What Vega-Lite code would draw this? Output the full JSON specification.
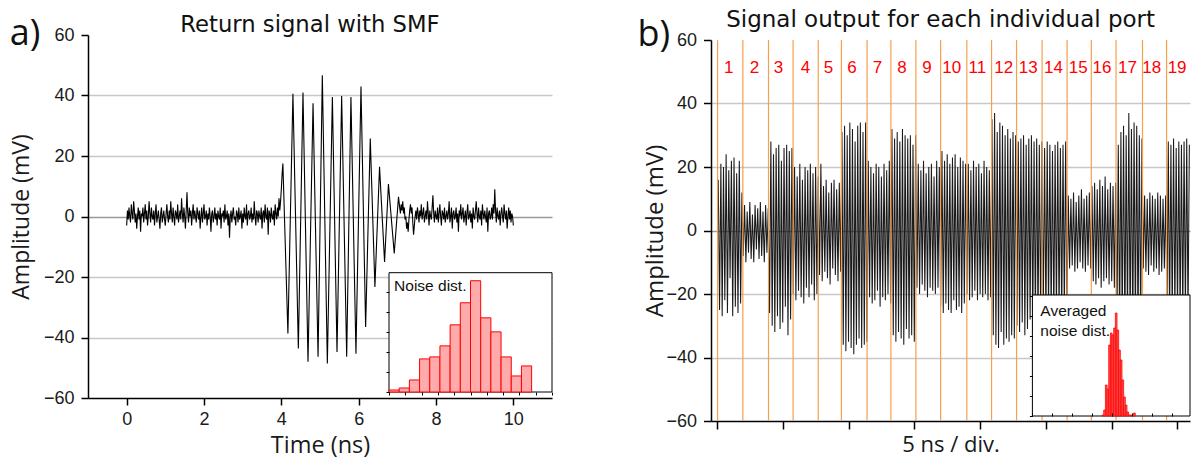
{
"$schema": "https://vega.github.io/schema/vega-lite/v6.json",
"background": "white",
"padding": {"left": 9, "top": 9, "right": 0, "bottom": 4},
"autosize": {"type": "pad"},
"bounds": "flush",
"spacing": 159,
"config": {
  "view": {"stroke": null},
  "axis": {"labelFont": "Liberation Sans", "labelFontSize": 18, "labelColor": "#1a1a1a", "titleFont": "Open Sans", "titleFontWeight": "normal", "titleColor": "#1a1a1a", "domainColor": "#000000", "domainWidth": 1.5, "tickColor": "#000000", "tickWidth": 1.5, "labelFlush": false, "labelOverlap": false, "labelBound": false}
},
"datasets": {
"sigA": [
{"t":0,"v":-3},{"t":0.02,"v":2},{"t":0.04,"v":-1},{"t":0.06,"v":3},{"t":0.08,"v":0},{"t":0.1,"v":-2},{"t":0.12,"v":4},{"t":0.14,"v":1},{"t":0.16,"v":-1},{"t":0.18,"v":5},
{"t":0.2,"v":2},{"t":0.22,"v":-2},{"t":0.24,"v":1},{"t":0.26,"v":-4},{"t":0.28,"v":0},{"t":0.3,"v":3},{"t":0.32,"v":-1},{"t":0.34,"v":2},{"t":0.36,"v":-5},{"t":0.38,"v":1},
{"t":0.4,"v":0},{"t":0.42,"v":3},{"t":0.44,"v":-2},{"t":0.46,"v":1},{"t":0.48,"v":4},{"t":0.5,"v":-1},{"t":0.52,"v":2},{"t":0.54,"v":-3},{"t":0.56,"v":0},{"t":0.58,"v":5},
{"t":0.6,"v":1},{"t":0.62,"v":-2},{"t":0.64,"v":3},{"t":0.66,"v":0},{"t":0.68,"v":-1},{"t":0.7,"v":2},{"t":0.72,"v":-3},{"t":0.74,"v":1},{"t":0.76,"v":4},{"t":0.78,"v":-2},
{"t":0.8,"v":0},{"t":0.82,"v":2},{"t":0.84,"v":-1},{"t":0.86,"v":-4},{"t":0.88,"v":1},{"t":0.9,"v":3},{"t":0.92,"v":-2},{"t":0.94,"v":0},{"t":0.96,"v":2},{"t":0.98,"v":-1},
{"t":1,"v":-3},{"t":1.02,"v":1},{"t":1.04,"v":4},{"t":1.06,"v":0},{"t":1.08,"v":-2},{"t":1.1,"v":2},{"t":1.12,"v":-1},{"t":1.14,"v":5},{"t":1.16,"v":1},{"t":1.18,"v":-2},
{"t":1.2,"v":3},{"t":1.22,"v":0},{"t":1.24,"v":-3},{"t":1.26,"v":2},{"t":1.28,"v":1},{"t":1.3,"v":-1},{"t":1.32,"v":4},{"t":1.34,"v":-2},{"t":1.36,"v":0},{"t":1.38,"v":2},
{"t":1.4,"v":-1},{"t":1.42,"v":6},{"t":1.44,"v":1},{"t":1.46,"v":-2},{"t":1.48,"v":3},{"t":1.5,"v":0},{"t":1.52,"v":-4},{"t":1.54,"v":2},{"t":1.56,"v":8},{"t":1.58,"v":1},
{"t":1.6,"v":-2},{"t":1.62,"v":3},{"t":1.64,"v":0},{"t":1.66,"v":2},{"t":1.68,"v":-3},{"t":1.7,"v":1},{"t":1.72,"v":4},{"t":1.74,"v":-1},{"t":1.76,"v":2},{"t":1.78,"v":0},
{"t":1.8,"v":-2},{"t":1.82,"v":3},{"t":1.84,"v":1},{"t":1.86,"v":-1},{"t":1.88,"v":2},{"t":1.9,"v":-4},{"t":1.92,"v":0},{"t":1.94,"v":3},{"t":1.96,"v":-2},{"t":1.98,"v":1},
{"t":2,"v":4},{"t":2.02,"v":-1},{"t":2.04,"v":0},{"t":2.06,"v":2},{"t":2.08,"v":-3},{"t":2.1,"v":1},{"t":2.12,"v":-1},{"t":2.14,"v":3},{"t":2.16,"v":0},{"t":2.18,"v":-5},
{"t":2.2,"v":1},{"t":2.22,"v":2},{"t":2.24,"v":-2},{"t":2.26,"v":0},{"t":2.28,"v":3},{"t":2.3,"v":-1},{"t":2.32,"v":1},{"t":2.34,"v":-3},{"t":2.36,"v":2},{"t":2.38,"v":0},
{"t":2.4,"v":-1},{"t":2.42,"v":3},{"t":2.44,"v":-4},{"t":2.46,"v":1},{"t":2.48,"v":0},{"t":2.5,"v":2},{"t":2.52,"v":-2},{"t":2.54,"v":4},{"t":2.56,"v":-1},{"t":2.58,"v":0},
{"t":2.6,"v":2},{"t":2.62,"v":-3},{"t":2.64,"v":1},{"t":2.66,"v":-7},{"t":2.68,"v":0},{"t":2.7,"v":2},{"t":2.72,"v":-2},{"t":2.74,"v":1},{"t":2.76,"v":3},{"t":2.78,"v":-1},
{"t":2.8,"v":0},{"t":2.82,"v":-3},{"t":2.84,"v":2},{"t":2.86,"v":1},{"t":2.88,"v":-2},{"t":2.9,"v":3},{"t":2.92,"v":-1},{"t":2.94,"v":0},{"t":2.96,"v":2},{"t":2.98,"v":-4},
{"t":3,"v":1},{"t":3.02,"v":-2},{"t":3.04,"v":3},{"t":3.06,"v":0},{"t":3.08,"v":-1},{"t":3.1,"v":4},{"t":3.12,"v":-3},{"t":3.14,"v":1},{"t":3.16,"v":2},{"t":3.18,"v":-1},
{"t":3.2,"v":0},{"t":3.22,"v":3},{"t":3.24,"v":-2},{"t":3.26,"v":1},{"t":3.28,"v":-1},{"t":3.3,"v":5},{"t":3.32,"v":0},{"t":3.34,"v":-3},{"t":3.36,"v":2},{"t":3.38,"v":1},
{"t":3.4,"v":-2},{"t":3.42,"v":2},{"t":3.44,"v":0},{"t":3.46,"v":-1},{"t":3.48,"v":3},{"t":3.5,"v":-4},{"t":3.52,"v":1},{"t":3.54,"v":2},{"t":3.56,"v":-2},{"t":3.58,"v":4},
{"t":3.6,"v":0},{"t":3.62,"v":-1},{"t":3.64,"v":3},{"t":3.66,"v":-6},{"t":3.68,"v":2},{"t":3.7,"v":1},{"t":3.72,"v":-2},{"t":3.74,"v":3},{"t":3.76,"v":0},{"t":3.78,"v":-1},
{"t":3.8,"v":2},{"t":3.82,"v":-3},{"t":3.84,"v":4},{"t":3.86,"v":1},{"t":3.88,"v":-1},{"t":3.9,"v":3},{"t":3.92,"v":0},{"t":3.94,"v":6},{"t":3.96,"v":2},{"t":3.98,"v":5},
{"t":4,"v":9},{"t":4.02,"v":14},
{"t":4.04,"v":17.5},{"t":4.17,"v":-38.7},{"t":4.3,"v":40.6},{"t":4.44,"v":-43.6},{"t":4.56,"v":41},{"t":4.69,"v":-48},{"t":4.82,"v":37.4},{"t":4.95,"v":-46.4},{"t":5.06,"v":46.7},{"t":5.19,"v":-48.6},{"t":5.32,"v":39.5},{"t":5.44,"v":-44.8},{"t":5.56,"v":39.8},{"t":5.69,"v":-46.4},{"t":5.8,"v":39.5},{"t":5.93,"v":-45.4},{"t":6.06,"v":43},{"t":6.18,"v":-36.5},{"t":6.3,"v":25.8},{"t":6.42,"v":-23.3},{"t":6.54,"v":16.4},{"t":6.67,"v":-15},{"t":6.77,"v":10.7},{"t":6.92,"v":-12.2},{"t":7.03,"v":6.5},
{"t":7.06,"v":3},{"t":7.08,"v":1},{"t":7.1,"v":4},{"t":7.12,"v":2},{"t":7.14,"v":5},{"t":7.16,"v":1},{"t":7.18,"v":3},{"t":7.2,"v":-1},{"t":7.22,"v":0},{"t":7.24,"v":-4},
{"t":7.26,"v":-2},{"t":7.28,"v":-5},{"t":7.3,"v":-1},{"t":7.32,"v":2},{"t":7.34,"v":4},{"t":7.36,"v":1},{"t":7.38,"v":3},{"t":7.4,"v":-2},{"t":7.42,"v":-6},{"t":7.44,"v":-3},
{"t":7.46,"v":0},{"t":7.48,"v":2},{"t":7.5,"v":-1},{"t":7.52,"v":3},{"t":7.54,"v":1},{"t":7.56,"v":-2},{"t":7.58,"v":2},{"t":7.6,"v":0},{"t":7.62,"v":4},{"t":7.64,"v":-1},
{"t":7.66,"v":1},{"t":7.68,"v":3},{"t":7.7,"v":-2},{"t":7.72,"v":0},{"t":7.74,"v":2},{"t":7.76,"v":-1},{"t":7.78,"v":5},{"t":7.8,"v":1},{"t":7.82,"v":-3},{"t":7.84,"v":2},
{"t":7.86,"v":0},{"t":7.88,"v":-1},{"t":7.9,"v":3},{"t":7.92,"v":7},{"t":7.94,"v":1},{"t":7.96,"v":-2},{"t":7.98,"v":2},{"t":8,"v":0},{"t":8.02,"v":-1},{"t":8.04,"v":3},
{"t":8.06,"v":-2},{"t":8.08,"v":1},{"t":8.1,"v":4},{"t":8.12,"v":0},{"t":8.14,"v":-3},{"t":8.16,"v":2},{"t":8.18,"v":1},{"t":8.2,"v":-1},{"t":8.22,"v":3},{"t":8.24,"v":-2},
{"t":8.26,"v":0},{"t":8.28,"v":2},{"t":8.3,"v":-1},{"t":8.32,"v":1},{"t":8.34,"v":5},{"t":8.36,"v":-2},{"t":8.38,"v":0},{"t":8.4,"v":3},{"t":8.42,"v":-4},{"t":8.44,"v":1},
{"t":8.46,"v":2},{"t":8.48,"v":-1},{"t":8.5,"v":0},{"t":8.52,"v":3},{"t":8.54,"v":-2},{"t":8.56,"v":1},{"t":8.58,"v":-5},{"t":8.6,"v":2},{"t":8.62,"v":0},{"t":8.64,"v":4},
{"t":8.66,"v":-1},{"t":8.68,"v":1},{"t":8.7,"v":3},{"t":8.72,"v":-2},{"t":8.74,"v":0},{"t":8.76,"v":2},{"t":8.78,"v":-3},{"t":8.8,"v":1},{"t":8.82,"v":4},{"t":8.84,"v":-1},
{"t":8.86,"v":0},{"t":8.88,"v":2},{"t":8.9,"v":-2},{"t":8.92,"v":1},{"t":8.94,"v":-4},{"t":8.96,"v":3},{"t":8.98,"v":0},{"t":9,"v":-1},{"t":9.02,"v":2},{"t":9.04,"v":5},
{"t":9.06,"v":1},{"t":9.08,"v":-2},{"t":9.1,"v":3},{"t":9.12,"v":0},{"t":9.14,"v":-1},{"t":9.16,"v":2},{"t":9.18,"v":-3},{"t":9.2,"v":4},{"t":9.22,"v":1},{"t":9.24,"v":-1},
{"t":9.26,"v":2},{"t":9.28,"v":0},{"t":9.3,"v":-2},{"t":9.32,"v":3},{"t":9.34,"v":-5},{"t":9.36,"v":1},{"t":9.38,"v":2},{"t":9.4,"v":-1},{"t":9.42,"v":0},{"t":9.44,"v":3},
{"t":9.46,"v":-1},{"t":9.48,"v":4},{"t":9.5,"v":1},{"t":9.52,"v":9},{"t":9.54,"v":2},{"t":9.56,"v":-2},{"t":9.58,"v":3},{"t":9.6,"v":0},{"t":9.62,"v":-1},{"t":9.64,"v":2},
{"t":9.66,"v":-3},{"t":9.68,"v":1},{"t":9.7,"v":3},{"t":9.72,"v":0},{"t":9.74,"v":-2},{"t":9.76,"v":4},{"t":9.78,"v":1},{"t":9.8,"v":-1},{"t":9.82,"v":2},{"t":9.84,"v":-4},
{"t":9.86,"v":0},{"t":9.88,"v":3},{"t":9.9,"v":-1},{"t":9.92,"v":2},{"t":9.94,"v":-2},{"t":9.96,"v":1},{"t":9.98,"v":0},{"t":10,"v":-3}
],
"histA": [
{"bin":0,"bin_end":1,"count":2},{"bin":1,"bin_end":2,"count":4},{"bin":2,"bin_end":3,"count":12},{"bin":3,"bin_end":4,"count":33},{"bin":4,"bin_end":5,"count":35},{"bin":5,"bin_end":6,"count":46},{"bin":6,"bin_end":7,"count":67},{"bin":7,"bin_end":8,"count":89},{"bin":8,"bin_end":9,"count":111},{"bin":9,"bin_end":10,"count":74},{"bin":10,"bin_end":11,"count":60},{"bin":11,"bin_end":12,"count":35},{"bin":12,"bin_end":13,"count":16},{"bin":13,"bin_end":14,"count":26}
],
"sigB": [
{"t":0.1,"v":16},{"t":0.2,"v":-25},{"t":0.3,"v":21},{"t":0.4,"v":-27},{"t":0.5,"v":20},{"t":0.6,"v":-22},{"t":0.7,"v":24},{"t":0.8,"v":-26},{"t":0.9,"v":19},{"t":1.0,"v":-15},{"t":1.1,"v":22},{"t":1.2,"v":-27},{"t":1.3,"v":23},{"t":1.4,"v":-24},{"t":1.5,"v":18},{"t":1.6,"v":-26},{"t":1.7,"v":22},{"t":1.8,"v":-23},{"t":1.9,"v":12},
{"t":2.0,"v":-8},{"t":2.1,"v":8},{"t":2.2,"v":-10},{"t":2.3,"v":6},{"t":2.4,"v":-7},{"t":2.5,"v":9},{"t":2.6,"v":-9},{"t":2.7,"v":5},{"t":2.8,"v":-10},{"t":2.9,"v":8},{"t":3.0,"v":-6},{"t":3.1,"v":7},{"t":3.2,"v":-9},{"t":3.3,"v":9},{"t":3.4,"v":-8},{"t":3.5,"v":6},{"t":3.6,"v":-10},{"t":3.7,"v":8},{"t":3.8,"v":-7},{"t":3.9,"v":7},
{"t":4.0,"v":-26},{"t":4.1,"v":28},{"t":4.2,"v":-30},{"t":4.3,"v":24},{"t":4.4,"v":-32},{"t":4.5,"v":26},{"t":4.6,"v":-27},{"t":4.7,"v":27},{"t":4.8,"v":-31},{"t":4.9,"v":22},{"t":5.0,"v":-29},{"t":5.1,"v":26},{"t":5.2,"v":-24},{"t":5.3,"v":27},{"t":5.4,"v":-33},{"t":5.5,"v":25},{"t":5.6,"v":-28},{"t":5.7,"v":26},
{"t":5.8,"v":-20},{"t":5.9,"v":20},{"t":6.0,"v":-22},{"t":6.1,"v":17},{"t":6.2,"v":-19},{"t":6.3,"v":21},{"t":6.4,"v":-21},{"t":6.5,"v":16},{"t":6.6,"v":-23},{"t":6.7,"v":20},{"t":6.8,"v":-18},{"t":6.9,"v":19},{"t":7.0,"v":-21},{"t":7.1,"v":21},{"t":7.2,"v":-17},{"t":7.3,"v":18},{"t":7.4,"v":-22},{"t":7.5,"v":20},{"t":7.6,"v":-20},{"t":7.7,"v":17},
{"t":7.8,"v":-14},{"t":7.9,"v":21},{"t":8.0,"v":-16},{"t":8.1,"v":14},{"t":8.2,"v":-13},{"t":8.3,"v":16},{"t":8.4,"v":-15},{"t":8.5,"v":12},{"t":8.6,"v":-17},{"t":8.7,"v":15},{"t":8.8,"v":-12},{"t":8.9,"v":16},{"t":9.0,"v":-14},{"t":9.1,"v":13},{"t":9.2,"v":-16},{"t":9.3,"v":15},{"t":9.4,"v":-13},
{"t":9.5,"v":31},{"t":9.6,"v":-36},{"t":9.7,"v":33},{"t":9.8,"v":-38},{"t":9.9,"v":30},{"t":10.0,"v":-35},{"t":10.1,"v":34},{"t":10.2,"v":-37},{"t":10.3,"v":32},{"t":10.4,"v":-39},{"t":10.5,"v":28},{"t":10.6,"v":-36},{"t":10.7,"v":33},{"t":10.8,"v":-34},{"t":10.9,"v":34},{"t":11.0,"v":-37},{"t":11.1,"v":31},{"t":11.2,"v":-36},{"t":11.3,"v":34},{"t":11.4,"v":-35},
{"t":11.5,"v":22},{"t":11.6,"v":-21},{"t":11.7,"v":20},{"t":11.8,"v":-23},{"t":11.9,"v":18},{"t":12.0,"v":-22},{"t":12.1,"v":21},{"t":12.2,"v":-19},{"t":12.3,"v":20},{"t":12.4,"v":-24},{"t":12.5,"v":17},{"t":12.6,"v":-21},{"t":12.7,"v":21},{"t":12.8,"v":-22},{"t":12.9,"v":19},{"t":13.0,"v":-20},{"t":13.1,"v":22},{"t":13.2,"v":-23},
{"t":13.3,"v":32},{"t":13.4,"v":-33},{"t":13.5,"v":29},{"t":13.6,"v":-35},{"t":13.7,"v":31},{"t":13.8,"v":-32},{"t":13.9,"v":28},{"t":14.0,"v":-34},{"t":14.1,"v":32},{"t":14.2,"v":-36},{"t":14.3,"v":30},{"t":14.4,"v":-31},{"t":14.5,"v":29},{"t":14.6,"v":-34},{"t":14.7,"v":30},{"t":14.8,"v":-33},{"t":14.9,"v":27},{"t":15.0,"v":-35},{"t":15.1,"v":30},
{"t":15.2,"v":-18},{"t":15.3,"v":21},{"t":15.4,"v":-20},{"t":15.5,"v":19},{"t":15.6,"v":-17},{"t":15.7,"v":22},{"t":15.8,"v":-19},{"t":15.9,"v":18},{"t":16.0,"v":-21},{"t":16.1,"v":20},{"t":16.2,"v":-18},{"t":16.3,"v":21},{"t":16.4,"v":-19},{"t":16.5,"v":17},{"t":16.6,"v":-20},{"t":16.7,"v":22},{"t":16.8,"v":-18},{"t":16.9,"v":20},
{"t":17.0,"v":-24},{"t":17.1,"v":25},{"t":17.2,"v":-26},{"t":17.3,"v":22},{"t":17.4,"v":-23},{"t":17.5,"v":24},{"t":17.6,"v":-25},{"t":17.7,"v":21},{"t":17.8,"v":-26},{"t":17.9,"v":23},{"t":18.0,"v":-22},{"t":18.1,"v":24},{"t":18.2,"v":-25},{"t":18.3,"v":20},{"t":18.4,"v":-24},{"t":18.5,"v":23},{"t":18.6,"v":-26},{"t":18.7,"v":22},{"t":18.8,"v":-23},{"t":18.9,"v":21},
{"t":19.0,"v":-20},{"t":19.1,"v":21},{"t":19.2,"v":-22},{"t":19.3,"v":19},{"t":19.4,"v":-21},{"t":19.5,"v":22},{"t":19.6,"v":-19},{"t":19.7,"v":20},{"t":19.8,"v":-22},{"t":19.9,"v":21},{"t":20.0,"v":-20},{"t":20.1,"v":18},{"t":20.2,"v":-21},{"t":20.3,"v":22},{"t":20.4,"v":-20},{"t":20.5,"v":20},{"t":20.6,"v":-22},{"t":20.7,"v":19},{"t":20.8,"v":-21},
{"t":20.9,"v":35},{"t":21.0,"v":-33},{"t":21.1,"v":37},{"t":21.2,"v":-36},{"t":21.3,"v":31},{"t":21.4,"v":-37},{"t":21.5,"v":34},{"t":21.6,"v":-32},{"t":21.7,"v":33},{"t":21.8,"v":-36},{"t":21.9,"v":30},{"t":22.0,"v":-34},{"t":22.1,"v":32},{"t":22.2,"v":-35},{"t":22.3,"v":29},{"t":22.4,"v":-33},{"t":22.5,"v":31},{"t":22.6,"v":-34},{"t":22.7,"v":30},
{"t":22.8,"v":-30},{"t":22.9,"v":28},{"t":23.0,"v":-32},{"t":23.1,"v":29},{"t":23.2,"v":-29},{"t":23.3,"v":30},{"t":23.4,"v":-33},{"t":23.5,"v":27},{"t":23.6,"v":-31},{"t":23.7,"v":29},{"t":23.8,"v":-28},{"t":23.9,"v":30},{"t":24.0,"v":-32},{"t":24.1,"v":28},{"t":24.2,"v":-30},{"t":24.3,"v":29},{"t":24.4,"v":-31},{"t":24.5,"v":27},{"t":24.6,"v":-29},{"t":24.7,"v":28},
{"t":24.8,"v":-27},{"t":24.9,"v":26},{"t":25.0,"v":-29},{"t":25.1,"v":28},{"t":25.2,"v":-26},{"t":25.3,"v":27},{"t":25.4,"v":-28},{"t":25.5,"v":25},{"t":25.6,"v":-29},{"t":25.7,"v":27},{"t":25.8,"v":-27},{"t":25.9,"v":28},{"t":26.0,"v":-28},{"t":26.1,"v":26},{"t":26.2,"v":-29},{"t":26.3,"v":27},{"t":26.4,"v":-26},{"t":26.5,"v":28},{"t":26.6,"v":-28},
{"t":26.7,"v":11},{"t":26.8,"v":-12},{"t":26.9,"v":10},{"t":27.0,"v":-11},{"t":27.1,"v":12},{"t":27.2,"v":-13},{"t":27.3,"v":9},{"t":27.4,"v":-12},{"t":27.5,"v":11},{"t":27.6,"v":-10},{"t":27.7,"v":13},{"t":27.8,"v":-12},{"t":27.9,"v":10},{"t":28.0,"v":-13},{"t":28.1,"v":11},{"t":28.2,"v":-11},{"t":28.3,"v":12},{"t":28.4,"v":-12},
{"t":28.5,"v":14},{"t":28.6,"v":-16},{"t":28.7,"v":15},{"t":28.8,"v":-17},{"t":28.9,"v":13},{"t":29.0,"v":-15},{"t":29.1,"v":16},{"t":29.2,"v":-18},{"t":29.3,"v":14},{"t":29.4,"v":-16},{"t":29.5,"v":17},{"t":29.6,"v":-15},{"t":29.7,"v":13},{"t":29.8,"v":-17},{"t":29.9,"v":15},{"t":30.0,"v":-16},{"t":30.1,"v":14},{"t":30.2,"v":-18},{"t":30.3,"v":15},
{"t":30.4,"v":-30},{"t":30.5,"v":27},{"t":30.6,"v":-33},{"t":30.7,"v":31},{"t":30.8,"v":-32},{"t":30.9,"v":33},{"t":31.0,"v":-34},{"t":31.1,"v":30},{"t":31.2,"v":-31},{"t":31.3,"v":37},{"t":31.4,"v":-33},{"t":31.5,"v":32},{"t":31.6,"v":-35},{"t":31.7,"v":34},{"t":31.8,"v":-32},{"t":31.9,"v":33},{"t":32.0,"v":-34},{"t":32.1,"v":30},{"t":32.2,"v":-31},{"t":32.3,"v":29},
{"t":32.4,"v":-12},{"t":32.5,"v":11},{"t":32.6,"v":-13},{"t":32.7,"v":10},{"t":32.8,"v":-14},{"t":32.9,"v":12},{"t":33.0,"v":-11},{"t":33.1,"v":11},{"t":33.2,"v":-13},{"t":33.3,"v":10},{"t":33.4,"v":-12},{"t":33.5,"v":12},{"t":33.6,"v":-14},{"t":33.7,"v":11},{"t":33.8,"v":-13},{"t":33.9,"v":10},{"t":34.0,"v":-12},{"t":34.1,"v":11},
{"t":34.2,"v":-27},{"t":34.3,"v":28},{"t":34.4,"v":-29},{"t":34.5,"v":27},{"t":34.6,"v":-28},{"t":34.7,"v":29},{"t":34.8,"v":-27},{"t":34.9,"v":26},{"t":35.0,"v":-28},{"t":35.1,"v":28},{"t":35.2,"v":-29},{"t":35.3,"v":27},{"t":35.4,"v":-28},{"t":35.5,"v":28},{"t":35.6,"v":-27},{"t":35.7,"v":29},{"t":35.8,"v":-28},{"t":35.9,"v":27}
],
"ports": [
{"port":1,"start":0.05,"label_t":0.9},{"port":2,"start":1.97,"label_t":2.86},{"port":3,"start":3.92,"label_t":4.67},{"port":4,"start":5.79,"label_t":6.73},{"port":5,"start":7.7,"label_t":8.47},{"port":6,"start":9.46,"label_t":10.26},{"port":7,"start":11.41,"label_t":12.2},{"port":8,"start":13.22,"label_t":14.07},{"port":9,"start":15.12,"label_t":15.97},{"port":10,"start":17.0,"label_t":17.84},{"port":11,"start":18.99,"label_t":19.79},{"port":12,"start":20.87,"label_t":21.8},{"port":13,"start":22.77,"label_t":23.66},{"port":14,"start":24.71,"label_t":25.58},{"port":15,"start":26.61,"label_t":27.45},{"port":16,"start":28.45,"label_t":29.26},{"port":17,"start":30.33,"label_t":31.2},{"port":18,"start":32.34,"label_t":33.04},{"port":19,"start":34.17,"label_t":34.97}
],
"histB": [
{"bin":42,"bin_end":43,"count":1},{"bin":43,"bin_end":44,"count":6},{"bin":44,"bin_end":45,"count":31},{"bin":45,"bin_end":46,"count":27},{"bin":46,"bin_end":47,"count":71},{"bin":47,"bin_end":48,"count":83},{"bin":48,"bin_end":49,"count":81},{"bin":49,"bin_end":50,"count":88},{"bin":50,"bin_end":51,"count":103},{"bin":51,"bin_end":52,"count":86},{"bin":52,"bin_end":53,"count":66},{"bin":53,"bin_end":54,"count":56},{"bin":54,"bin_end":55,"count":36},{"bin":55,"bin_end":56,"count":19},{"bin":56,"bin_end":57,"count":11},{"bin":57,"bin_end":58,"count":4},{"bin":58,"bin_end":59,"count":1},{"bin":59,"bin_end":60,"count":1},{"bin":61,"bin_end":62,"count":3}
]
},
"hconcat": [
{
  "width": 464, "height": 363,
  "layer": [
    {"layer": [
      {"data": {"name": "sigA"}, "mark": {"type": "line", "color": "#000000", "strokeWidth": 1.1},
       "encoding": {
         "x": {"field": "t", "type": "quantitative", "scale": {"domain": [-1, 11], "nice": false, "zero": false},
               "axis": {"values": [0, 2, 4, 6, 8, 10], "labels": true, "tickSize": 7, "grid": false, "labelPadding": 5.5, "title": "Time (ns)", "titleFontSize": 23.5, "titlePadding": 5}},
         "y": {"field": "v", "type": "quantitative", "scale": {"domain": [-60, 60], "nice": false, "zero": false},
               "axis": {"values": [-60,-50,-40,-30,-20,-10,0,10,20,30,40,50,60], "labelExpr": "datum.value % 20 === 0 ? datum.label : ''", "tickSize": 7, "tickDash": {"condition": {"test": "datum.value % 20 !== 0", "value": [4, 20]}, "value": []}, "grid": true, "gridDash": {"condition": {"test": "datum.value % 20 !== 0", "value": [2, 2]}, "value": []}, "gridColor": {"condition": {"test": "datum.value === 0", "value": "#999999"}, "value": "#c8c8c8"}, "gridWidth": {"condition": {"test": "datum.value % 20 !== 0", "value": 1}, "value": 1.5}, "gridOpacity": {"condition": {"test": "abs(datum.value) === 60", "value": 0}, "value": 1}, "labelPadding": 7, "title": "Amplitude (mV)", "titleFontSize": 23, "titlePadding": 9.8}}
       }},
      {"data": {"values": [{}]}, "mark": {"type": "text", "text": "a)", "font": "Open Sans", "fontSize": 36, "align": "center", "baseline": "middle", "color": "#111111"},
       "encoding": {"x": {"datum": -2.63}, "y": {"datum": 60.3}}},
      {"data": {"values": [{}]}, "mark": {"type": "text", "text": "Return signal with SMF", "font": "DejaVu Sans", "fontSize": 22.7, "align": "center", "baseline": "alphabetic", "color": "#111111"},
       "encoding": {"x": {"datum": 4.74}, "y": {"datum": 61.09}}}
    ]},
    {"layer": [
      {"data": {"values": [{}]}, "mark": {"type": "rect", "fill": "#ffffff", "stroke": "#000000", "strokeWidth": 1},
       "encoding": {"x": {"datum": 0}, "x2": {"datum": 16}, "y": {"datum": 0}, "y2": {"datum": 119}}},
      {"data": {"name": "histA"}, "mark": {"type": "rect", "fill": "#ffabab", "stroke": "#ff0000", "strokeWidth": 1},
       "encoding": {
         "x": {"field": "bin", "type": "quantitative", "scale": {"domain": [0, 16], "range": [301, 464], "nice": false, "zero": false},
               "axis": {"orient": "bottom", "offset": -6, "values": [0,0.4,0.8,1.2,1.6,2,2.4,2.8,3.2,3.6,4,4.4,4.8,5.2,5.6,6,6.4,6.8,7.2,7.6,8,8.4,8.8,9.2,9.6,10,10.4,10.8,11.2,11.6,12,12.4,12.8,13.2,13.6,14,14.4,14.8,15.2,15.6,16], "labels": false, "domain": false, "grid": false, "title": null, "tickSize": 3, "tickWidth": 1, "zindex": 1}},
         "x2": {"field": "bin_end"},
         "y": {"field": "count", "type": "quantitative", "scale": {"domain": [0, 119], "range": [357, 237.7], "nice": false, "zero": false},
               "axis": {"orient": "left", "offset": -301, "values": [0,10,20,30,40,50,60,70,80,90,100,110], "labels": false, "domain": false, "grid": false, "title": null, "tickSize": 3, "tickWidth": 1, "zindex": 1}},
         "y2": {"datum": 0}
       }},
      {"data": {"values": [{}]}, "mark": {"type": "text", "text": "Noise dist.", "font": "Liberation Sans", "fontSize": 15.5, "align": "left", "baseline": "top", "color": "#111111"},
       "encoding": {"x": {"datum": 0.5}, "y": {"datum": 112.7}}}
    ]}
  ],
  "resolve": {"scale": {"x": "independent", "y": "independent"}, "axis": {"x": "independent", "y": "independent"}}
},
{
  "width": 479, "height": 386,
  "layer": [
    {"layer": [
      {"data": {"name": "sigB"}, "mark": {"type": "line", "color": "#1a1a1a", "strokeWidth": 1.05},
       "encoding": {
         "x": {"field": "t", "type": "quantitative", "scale": {"domain": [-0.45, 35.95], "nice": false, "zero": false},
               "axis": {"values": [0,5,10,15,20,25,30,35], "labels": false, "tickSize": 8, "grid": false, "title": "5 ns / div.", "titleFontSize": 22, "titlePadding": 5}},
         "y": {"field": "v", "type": "quantitative", "scale": {"domain": [-60, 60], "range": [386, 5], "nice": false, "zero": false},
               "axis": {"values": [-60,-50,-40,-30,-20,-10,0,10,20,30,40,50,60], "labelExpr": "datum.value % 20 === 0 ? datum.label : ''", "tickSize": 7.5, "tickDash": {"condition": {"test": "datum.value % 20 !== 0", "value": [4, 20]}, "value": []}, "grid": true, "gridDash": {"condition": {"test": "datum.value % 20 !== 0", "value": [2, 2]}, "value": []}, "gridColor": {"condition": {"test": "datum.value === 0", "value": "#999999"}, "value": "#c8c8c8"}, "gridWidth": {"condition": {"test": "datum.value % 20 !== 0", "value": 1}, "value": 1.5}, "gridOpacity": {"condition": {"test": "abs(datum.value) === 60", "value": 0}, "value": 1}, "labelPadding": 7, "title": "Amplitude (mV)", "titleFontSize": 24, "titlePadding": -1.5}}
       }},
      {"data": {"name": "ports"}, "mark": {"type": "rule", "color": "#f6a04d", "strokeWidth": 1.2},
       "encoding": {"x": {"field": "start", "type": "quantitative"}, "y": {"datum": -60}, "y2": {"datum": 60}}},
      {"data": {"name": "ports"}, "mark": {"type": "text", "color": "#ff0000", "font": "Liberation Sans", "fontSize": 17, "align": "center", "baseline": "middle"},
       "encoding": {"x": {"field": "label_t", "type": "quantitative"}, "y": {"datum": 51.2}, "text": {"field": "port", "type": "nominal"}}},
      {"data": {"values": [{}]}, "mark": {"type": "text", "text": "b)", "font": "Open Sans", "fontSize": 36, "align": "center", "baseline": "middle", "color": "#111111"},
       "encoding": {"x": {"datum": -4.8}, "y": {"datum": 61.6}}},
      {"data": {"values": [{}]}, "mark": {"type": "text", "text": "Signal output for each individual port", "font": "DejaVu Sans", "fontSize": 23, "align": "center", "baseline": "alphabetic", "color": "#111111"},
       "encoding": {"x": {"datum": 17.0}, "y": {"datum": 64.0}}}
    ]},
    {"layer": [
      {"data": {"values": [{}]}, "mark": {"type": "rect", "fill": "#ffffff", "stroke": "#000000", "strokeWidth": 1},
       "encoding": {"x": {"datum": 0}, "x2": {"datum": 95}, "y": {"datum": 0}, "y2": {"datum": 121}}},
      {"data": {"name": "histB"}, "mark": {"type": "rect", "fill": "#ff5c5c", "stroke": "#ff0000", "strokeWidth": 0.8},
       "encoding": {
         "x": {"field": "bin", "type": "quantitative", "scale": {"domain": [0, 95], "range": [321.4, 479], "nice": false, "zero": false},
               "axis": {"orient": "bottom", "offset": -5, "values": [0,3,6,9,12,15,18,21,24,27,30,33,36,39,42,45,48,51,54,57,60,63,66,69,72,75,78,81,84,87,90,93], "labels": false, "domain": false, "grid": false, "title": null, "tickSize": -3, "tickWidth": 1, "zindex": 1}},
         "x2": {"field": "bin_end"},
         "y": {"field": "count", "type": "quantitative", "scale": {"domain": [0, 121], "range": [381, 260], "nice": false, "zero": false},
               "axis": {"orient": "left", "offset": -321.4, "values": [0,10,20,30,40,50,60,70,80,90,100,110,120], "labels": false, "domain": false, "grid": false, "title": null, "tickSize": 3, "tickWidth": 1, "zindex": 1}},
         "y2": {"datum": 0}
       }},
      {"data": {"values": [{}]}, "mark": {"type": "text", "text": ["Averaged", "noise dist."], "font": "Liberation Sans", "fontSize": 15.5, "lineHeight": 20.7, "align": "left", "baseline": "top", "color": "#111111"},
       "encoding": {"x": {"datum": 4.8}, "y": {"datum": 112.2}}}
    ]}
  ],
  "resolve": {"scale": {"x": "independent", "y": "independent"}, "axis": {"x": "independent", "y": "independent"}}
}
]
}
